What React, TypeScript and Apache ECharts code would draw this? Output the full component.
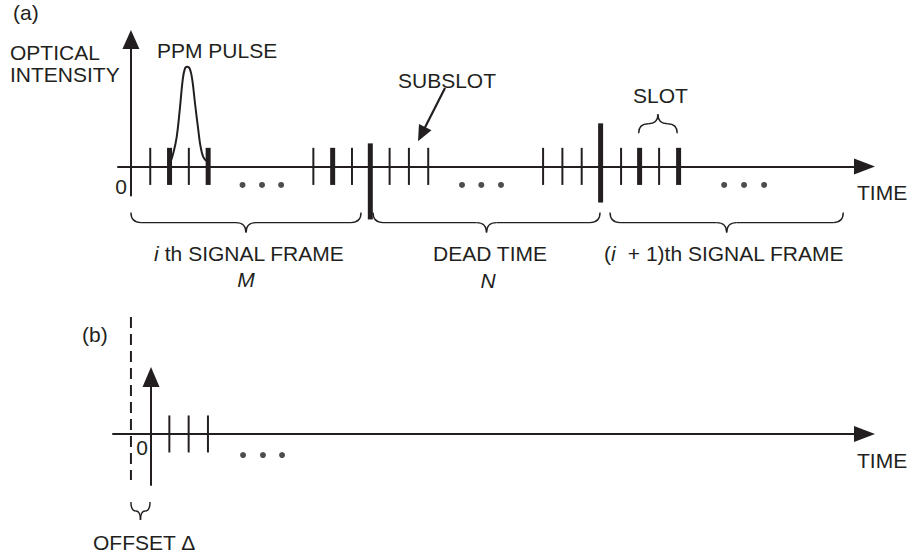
import { useEffect, useRef } from 'react';
import * as echarts from 'echarts';

const INK = '#231f20';
const FONT = '"Liberation Sans", Arial, Helvetica, sans-serif';
const FONT_SIZE = 21;

// ---- Panel (a): time in subslot units, intensity in arbitrary units ----
const subslotsA = [1, 2, 3, 4, 9.45, 10.45, 11.45, 13.4, 14.4, 15.4, 21.35, 22.35, 23.35, 25.39, 26.35, 27.36, 28.37];
const slotEdgesA = [2, 4, 10.45, 26.35, 28.37];
// [time, lower end, upper end] of the frame boundary markers
const frameBoundsA = [
  [12.4, -2.86, 1.24],
  [24.33, -1.95, 2.32],
];
const ellipsisA = [5.78, 6.79, 7.78, 17.15, 18.15, 19.17, 30.73, 31.76, 32.8];
const pulseA = [
  [2.02, 0.15], [2.19, 0.69], [2.37, 1.58], [2.54, 3.17], [2.68, 4.65], [2.8, 5.28], [2.92, 5.37],
  [3.06, 5.23], [3.18, 4.65], [3.32, 3.39], [3.49, 1.95], [3.61, 1.05], [3.75, 0.5], [3.93, 0.28],
];
// [start, end] of the frame braces under the axis
const framesA = [
  [0, 11.92],
  [12.54, 24.3],
  [24.82, 36.9],
];
const slotBraceA = [26.3, 28.3];
const subslotPointerA = [16.27, 4.22, 14.87, 1.35];

// ---- Panel (b) ----
const subslotsB = [0.95, 1.95, 2.95];
const ellipsisB = [4.77, 5.8, 6.79];
const offsetB = -1.04;

function braceGroup(x1: number, x2: number, yb: number, yt: number) {
  const ym = (yb + yt) / 2;
  const xm = (x1 + x2) / 2;
  const r = Math.min(10, (x2 - x1) / 4);
  const style = { stroke: INK, fill: null, lineWidth: 1.4 };
  return {
    type: 'group',
    children: [
      { type: 'bezierCurve', shape: { x1, y1: yb, cpx1: x1, cpy1: ym, x2: x1 + r, y2: ym }, style },
      { type: 'line', shape: { x1: x1 + r, y1: ym, x2: xm - r, y2: ym }, style },
      { type: 'bezierCurve', shape: { x1: xm - r, y1: ym, cpx1: xm, cpy1: ym, x2: xm, y2: yt }, style },
      { type: 'bezierCurve', shape: { x1: xm, y1: yt, cpx1: xm, cpy1: ym, x2: xm + r, y2: ym }, style },
      { type: 'line', shape: { x1: xm + r, y1: ym, x2: x2 - r, y2: ym }, style },
      { type: 'bezierCurve', shape: { x1: x2 - r, y1: ym, cpx1: x2, cpy1: ym, x2, y2: yb }, style },
    ],
  };
}

const renderBar = (_p: any, api: any) => {
  const x = api.value(0);
  const lo = api.coord([x, api.value(1)]);
  const hi = api.coord([x, api.value(2)]);
  const w = api.value(3);
  return {
    type: 'rect',
    shape: { x: lo[0] - w / 2, y: hi[1], width: w, height: lo[1] - hi[1] },
    style: { fill: INK },
  };
};

const renderBrace = (_p: any, api: any) => {
  const a = api.coord([api.value(0), api.value(2)]);
  const b = api.coord([api.value(1), api.value(3)]);
  return braceGroup(a[0], b[0], a[1], b[1]);
};

const axisStyle = (size: number[]) => ({
  show: true,
  onZero: true,
  symbol: ['none', 'triangle'],
  symbolSize: size,
  lineStyle: { color: INK, width: 2 },
});

const hiddenParts = {
  axisTick: { show: false },
  axisLabel: { show: false },
  splitLine: { show: false },
};

const text = (t: string, x: number, y: number, align = 'left', rich?: any) => ({
  type: 'text',
  x,
  y,
  style: {
    text: t,
    fill: INK,
    fontSize: FONT_SIZE,
    fontFamily: FONT,
    align,
    verticalAlign: 'middle',
    rich,
  },
});

const italic = { it: { fontStyle: 'italic', fontSize: FONT_SIZE, fontFamily: FONT, fill: INK } };

export default function App() {
  const ref = useRef<HTMLDivElement>(null);

  useEffect(() => {
    if (!ref.current) return;
    const chart = echarts.init(ref.current, null, { renderer: 'svg' });

    const barsA = [
      ...subslotsA.map((x) => [x, -1, 1, slotEdgesA.includes(x) ? 5 : 2]),
      ...frameBoundsA.map(([x, lo, hi]) => [x, lo, hi, 5]),
    ];
    const barsB = subslotsB.map((x) => [x, -1, 1, 2]);

    const option: any = {
      animation: false,
      backgroundColor: '#ffffff',
      grid: [
        { left: 118, top: 39.5, width: 746.5, height: 156, outerBoundsMode: 'none' },
        { left: 113, top: 377, width: 751.5, height: 108, outerBoundsMode: 'none' },
      ],
      xAxis: [
        { type: 'value', gridIndex: 0, min: -0.67, max: 38.0, axisLine: axisStyle([16, 21]), ...hiddenParts },
        { type: 'value', gridIndex: 1, min: -1.97, max: 36.97, axisLine: axisStyle([16, 21]), ...hiddenParts },
      ],
      yAxis: [
        { type: 'value', gridIndex: 0, min: -1.57, max: 6.84, axisLine: axisStyle([17, 19]), ...hiddenParts },
        { type: 'value', gridIndex: 1, min: -2.76, max: 3.08, axisLine: axisStyle([17, 20]), ...hiddenParts },
      ],
      series: [
        {
          name: 'subslots a',
          type: 'custom',
          xAxisIndex: 0,
          yAxisIndex: 0,
          data: barsA,
          renderItem: renderBar,
          encode: { x: 0, y: [1, 2] },
          z: 3,
        },
        {
          name: 'PPM pulse',
          type: 'line',
          xAxisIndex: 0,
          yAxisIndex: 0,
          data: pulseA,
          smooth: 0.4,
          showSymbol: false,
          lineStyle: { color: INK, width: 2 },
          z: 2,
        },
        {
          name: 'ellipsis a',
          type: 'scatter',
          xAxisIndex: 0,
          yAxisIndex: 0,
          data: ellipsisA.map((x) => [x, -1.0]),
          symbolSize: 6,
          itemStyle: { color: INK },
        },
        {
          name: 'frames a',
          type: 'custom',
          xAxisIndex: 0,
          yAxisIndex: 0,
          data: framesA.map(([a, b]) => [a, b, -2.49, -3.57]),
          renderItem: renderBrace,
          encode: { x: [0, 1], y: [2, 3] },
        },
        {
          name: 'slot a',
          type: 'custom',
          xAxisIndex: 0,
          yAxisIndex: 0,
          data: [[slotBraceA[0], slotBraceA[1], 1.78, 2.81]],
          renderItem: renderBrace,
          encode: { x: [0, 1], y: [2, 3] },
        },
        {
          name: 'subslot pointer',
          type: 'custom',
          xAxisIndex: 0,
          yAxisIndex: 0,
          data: [subslotPointerA],
          encode: { x: [0, 2], y: [1, 3] },
          renderItem: (_p: any, api: any) => {
            const s = api.coord([api.value(0), api.value(1)]);
            const t = api.coord([api.value(2), api.value(3)]);
            const dx = t[0] - s[0];
            const dy = t[1] - s[1];
            const len = Math.hypot(dx, dy);
            const ux = dx / len;
            const uy = dy / len;
            const head = 16;
            const half = 7;
            const bx = t[0] - ux * head;
            const by = t[1] - uy * head;
            return {
              type: 'group',
              children: [
                { type: 'line', shape: { x1: s[0], y1: s[1], x2: bx + ux * 2, y2: by + uy * 2 }, style: { stroke: INK, lineWidth: 2.2 } },
                {
                  type: 'polygon',
                  shape: {
                    points: [
                      [t[0], t[1]],
                      [bx - uy * half, by + ux * half],
                      [bx + uy * half, by - ux * half],
                    ],
                  },
                  style: { fill: INK },
                },
              ],
            };
          },
        },
        {
          name: 'subslots b',
          type: 'custom',
          xAxisIndex: 1,
          yAxisIndex: 1,
          data: barsB,
          renderItem: renderBar,
          encode: { x: 0, y: [1, 2] },
          z: 3,
        },
        {
          name: 'ellipsis b',
          type: 'scatter',
          xAxisIndex: 1,
          yAxisIndex: 1,
          data: ellipsisB.map((x) => [x, -1.14]),
          symbolSize: 6,
          itemStyle: { color: INK },
        },
        {
          name: 'offset b',
          type: 'custom',
          xAxisIndex: 1,
          yAxisIndex: 1,
          clip: false,
          data: [[offsetB, 0]],
          encode: { x: 0, y: 1 },
          renderItem: (_p: any, api: any) => {
            const top = api.coord([offsetB, 6.32]);
            const bot = api.coord([offsetB, -2.49]);
            const b0 = api.coord([offsetB, -3.68]);
            const b1 = api.coord([0, -4.65]);
            return {
              type: 'group',
              children: [
                {
                  type: 'line',
                  shape: { x1: top[0], y1: top[1], x2: bot[0], y2: bot[1] },
                  style: { stroke: INK, lineWidth: 2, lineDash: [11, 6] },
                },
                braceGroup(b0[0], b1[0] - 1, b0[1], b1[1]),
              ],
            };
          },
        },
      ],
      graphic: [
        text('(a)', 13, 12),
        text('OPTICAL', 10, 52),
        text('INTENSITY', 10, 74),
        text('PPM PULSE', 157, 50),
        text('0', 121, 186, 'center'),
        text('SUBSLOT', 398, 80),
        text('SLOT', 633, 95),
        text('TIME', 857, 192),
        text('{it|i} th SIGNAL FRAME', 249, 253, 'center', italic),
        text('{it|M}', 246, 279, 'center', italic),
        text('DEAD TIME', 490, 253, 'center'),
        text('{it|N}', 488, 280, 'center', italic),
        text('({it|i}  + 1)th SIGNAL FRAME', 724, 253, 'center', italic),
        text('(b)', 82, 334),
        text('0', 142, 447, 'center'),
        text('TIME', 857, 460),
        text('OFFSET Δ', 93, 542),
      ],
    };

    chart.setOption(option);
    return () => chart.dispose();
  }, []);

  return (
    <div
      ref={ref}
      style={{ position: 'fixed', left: 0, top: 0, width: 910, height: 556, background: '#ffffff' }}
    />
  );
}
